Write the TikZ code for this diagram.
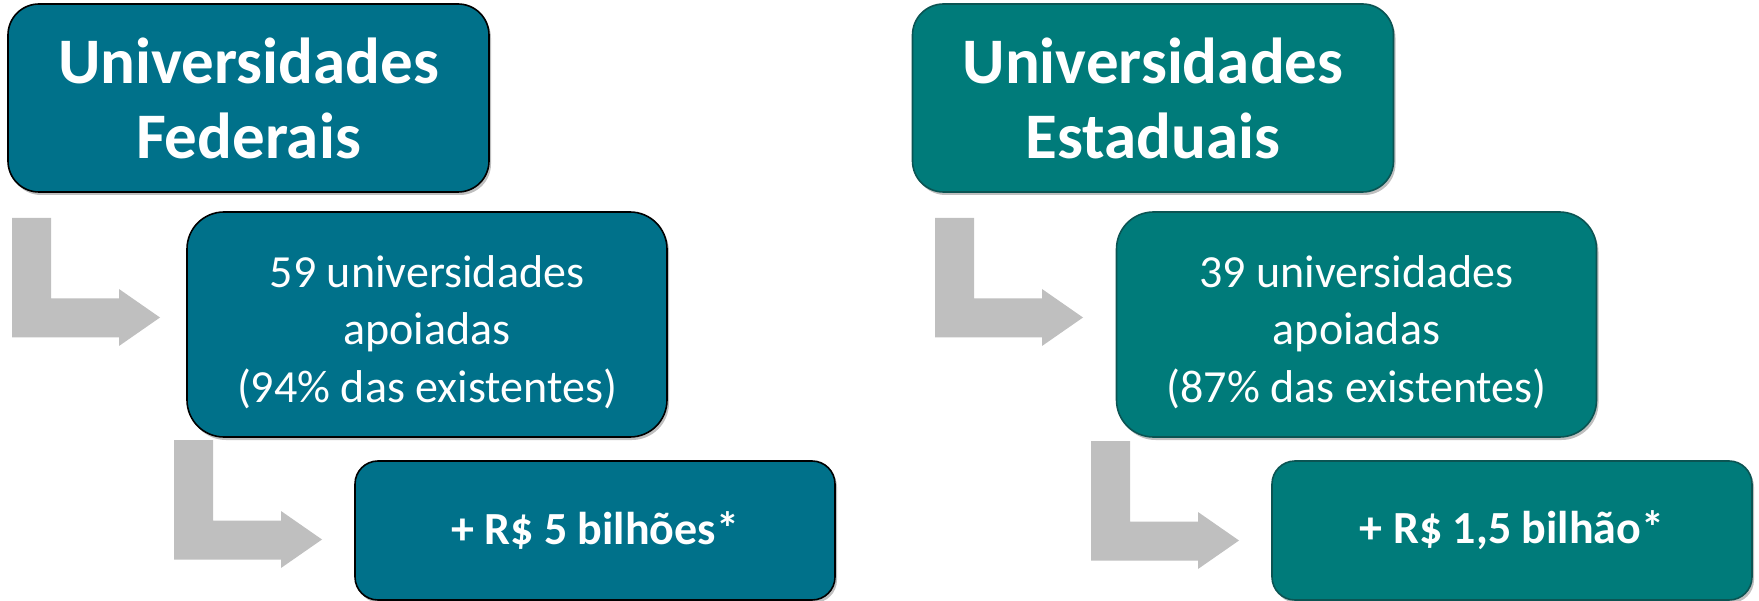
\documentclass[tikz,border=0pt]{standalone}
\usepackage{fontspec}
\setmainfont{Carlito}
\usetikzlibrary{shadows}
\definecolor{fedblue}{HTML}{00718A}
\definecolor{estteal}{HTML}{007B7A}
\definecolor{estline}{HTML}{0B5453}
\definecolor{arrowgray}{HTML}{BFBFBF}
\newcommand{\lowerstrut}{\rule{0pt}{47pt}}
\tikzset{
  box/.style={rectangle, text=white, align=center, line width=1.6pt,
    drop shadow={shadow xshift=2pt, shadow yshift=-3pt, opacity=0.25, fill=black}},
  fed/.style={box, fill=fedblue, draw=black},
  est/.style={box, fill=estteal, draw=estline},
  hdrbox/.style={minimum width=481pt, minimum height=188pt, rounded corners=31pt,
    font=\fontsize{65}{75}\selectfont\bfseries},
  midbox/.style={minimum width=480pt, minimum height=225pt, rounded corners=37pt,
    font=\fontsize{46}{57.5}\selectfont},
  botbox/.style={minimum width=480pt, minimum height=139pt, rounded corners=23pt,
    font=\fontsize{46}{55}\selectfont\bfseries},
  bentarrow/.pic={\fill[arrowgray] (0,0) -- (39,0) -- (39,80.5) -- (107,80.5) -- (107,71)
     -- (148,99.5) -- (107,128) -- (107,119.5) -- (0,119.5) -- cycle;}
}
\begin{document}
\begin{tikzpicture}[x=1pt,y=-1pt]
\useasboundingbox (0,0) rectangle (1759,601);
% arrows
\pic (a1) at (12,218) {bentarrow};
\pic (a2) at (174,440) {bentarrow};
\pic (a3) at (935,218) {bentarrow};
\pic (a4) at (1091,441) {bentarrow};
% left column
\node[fed, hdrbox] (h1) at (248.5,98) {Universidades\\Federais};
\node[fed, midbox] (m1) at (427,324.5) {\lowerstrut 59 universidades\\apoiadas\\(94\% das existentes)};
\node[fed, botbox] (b1) at (595,530.5) {+ R\$ 5 bilhões*};
% right column
\node[est, hdrbox] (h2) at (1153,98) {Universidades\\Estaduais};
\node[est, midbox] (m2) at (1356.5,324.5) {\lowerstrut 39 universidades\\apoiadas\\(87\% das existentes)};
\node[est, botbox] (b2) at (1512,530.5) {+ R\$ 1,5 bilhão*};
\end{tikzpicture}
\end{document}
